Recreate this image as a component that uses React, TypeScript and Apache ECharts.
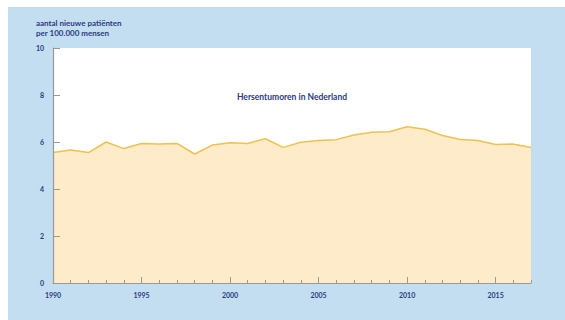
import React, { useEffect, useRef } from "react";
import * as echarts from "echarts";

const years = [
  "1990", "1991", "1992", "1993", "1994", "1995", "1996", "1997", "1998", "1999",
  "2000", "2001", "2002", "2003", "2004", "2005", "2006", "2007", "2008", "2009",
  "2010", "2011", "2012", "2013", "2014", "2015", "2016", "2017",
];
const incidence = [
  5.55, 5.66, 5.55, 6.0, 5.72, 5.94, 5.91, 5.94, 5.49, 5.87,
  5.97, 5.94, 6.14, 5.77, 5.99, 6.06, 6.1, 6.3, 6.41, 6.44,
  6.65, 6.54, 6.28, 6.11, 6.06, 5.89, 5.91, 5.77,
];
const yTitle = "aantal nieuwe patiënten\nper 100.000 mensen";
const chartTitle = "Hersentumoren in Nederland";

const NAVY = "#2b3b82";
const AXIS = "#999999";
const FONT = "Lato, 'Open Sans', sans-serif";

export default function App() {
  const ref = useRef<HTMLDivElement>(null);
  useEffect(() => {
    if (!ref.current) return;
    const chart = echarts.init(ref.current, null, { renderer: "svg" });
    chart.setOption({
      animation: false,
      backgroundColor: "#c3def0",
      grid: {
        left: 45,
        top: 41,
        right: 34,
        bottom: 37,
        show: true,
        backgroundColor: "#ffffff",
        borderWidth: 0,
      },
      graphic: [
        {
          type: "text",
          left: 28,
          top: 11,
          style: {
            text: yTitle,
            fill: NAVY,
            font: `bold 8px ${FONT}`,
            lineHeight: 10,
          },
        },
        {
          type: "text",
          x: 284,
          y: 90,
          style: {
            text: chartTitle,
            fill: NAVY,
            font: `bold 8.5px ${FONT}`,
            align: "center",
            verticalAlign: "middle",
          },
          z: 10,
        },
      ],
      xAxis: [
        {
          type: "category",
          data: years,
          boundaryGap: false,
          z: 5,
          axisLine: { lineStyle: { color: AXIS, width: 1.2 } },
          axisTick: {
            inside: true,
            length: 3,
            interval: 0,
            lineStyle: { color: AXIS },
          },
          axisLabel: {
            interval: (i: number) => i % 5 === 0,
            color: NAVY,
            fontFamily: FONT,
            fontWeight: "bold",
            fontSize: 7,
            margin: 8,
          },
          splitLine: { show: false },
        },
        {
          type: "category",
          data: years,
          boundaryGap: false,
          position: "bottom",
          z: 5,
          axisLine: { show: false },
          axisTick: {
            inside: true,
            length: 6,
            interval: (i: number) => i % 5 === 0,
            lineStyle: { color: AXIS },
          },
          axisLabel: { show: false },
          splitLine: { show: false },
        },
      ],
      yAxis: {
        type: "value",
        min: 0,
        max: 10,
        interval: 2,
        z: 5,
        axisLine: { show: true, lineStyle: { color: AXIS, width: 1.2 } },
        axisTick: { show: true, inside: true, length: 7, lineStyle: { color: AXIS } },
        axisLabel: {
          color: NAVY,
          fontFamily: FONT,
          fontWeight: "bold",
          fontSize: 7,
          margin: 9,
        },
        splitLine: { show: false },
      },
      series: [
        {
          type: "line",
          data: incidence,
          xAxisIndex: 0,
          symbol: "none",
          lineStyle: { color: "#f0c14e", width: 1.5 },
          areaStyle: { color: "#fdebc9", opacity: 1 },
          z: 2,
        },
      ],
    });
    return () => chart.dispose();
  }, []);
  return (
    <div
      ref={ref}
      style={{ position: "fixed", left: 8, top: 7, width: 557, height: 313 }}
    />
  );
}
